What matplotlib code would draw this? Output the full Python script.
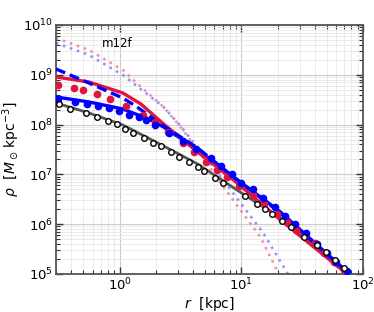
import matplotlib
matplotlib.use("Agg")
import matplotlib.pyplot as plt
import numpy as np

# ---- data ----
# open circles (gray profile)
r_open = [0.315, 0.389, 0.526, 0.648, 0.797, 0.945, 1.10, 1.28, 1.57, 1.86, 2.17, 2.62,
          3.05, 3.68, 4.36, 4.97, 6.12, 7.12, 10.6, 13.3, 15.6, 17.9, 21.7, 25.7, 32.5,
          42.0, 49.7, 58.9, 69.8]
lr_open = [8.408, 8.313, 8.227, 8.147, 8.072, 8.012, 7.906, 7.831, 7.731, 7.631, 7.56, 7.45,
           7.349, 7.249, 7.149, 7.068, 6.928, 6.827, 6.556, 6.406, 6.305, 6.205, 6.064, 5.944,
           5.743, 5.582, 5.442, 5.281, 5.12]

# blue filled circles
r_blue = [0.310, 0.428, 0.537, 0.660, 0.812, 0.98, 1.186, 1.43, 1.63, 1.94, 2.52, 3.28,
          4.2, 5.57, 6.85, 8.44, 10.0, 12.5, 15.1, 19.0, 22.9, 27.7, 34.1, 42.0, 50.7,
          60.1, 74.0]
lr_blue = [8.514, 8.454, 8.414, 8.373, 8.333, 8.273, 8.193, 8.153, 8.092, 7.992, 7.831, 7.671,
           7.51, 7.329, 7.169, 7.008, 6.827, 6.707, 6.526, 6.345, 6.165, 6.004, 5.823, 5.602,
           5.422, 5.241, 5.06]

# red filled circles
r_red = [0.310, 0.42, 0.497, 0.648, 0.828, 1.12, 1.54, 1.94, 2.47, 3.28, 4.04, 5.07, 6.24,
         7.68, 9.63, 12.5, 15.4, 19.7, 23.8, 28.2, 33.5, 40.5, 47.9, 57.8, 69.8]
lr_red = [8.795, 8.735, 8.695, 8.614, 8.514, 8.373, 8.193, 8.052, 7.851, 7.631, 7.45, 7.249,
          7.088, 6.948, 6.767, 6.586, 6.406, 6.205, 6.044, 5.884, 5.783, 5.622, 5.422, 5.241,
          5.08]

# curves
r_gray_line = [0.299, 0.557, 1.058, 2.29, 4.36, 10.6, 21.7, 78.2]
lr_gray_line = [8.434, 8.233, 7.992, 7.570, 7.209, 6.586, 6.104, 5.0]

r_blue_line = [0.299, 0.557, 1.058, 1.80, 2.29, 4.36, 8.6, 20.9, 75.4]
lr_blue_line = [8.554, 8.454, 8.313, 8.092, 7.952, 7.49, 6.948, 6.245, 5.02]

r_blue_dash = [0.299, 0.557, 1.058, 1.35, 2.29, 4.36, 8.6, 20.9, 75.4]
lr_blue_dash = [9.116, 8.835, 8.534, 8.373, 7.972, 7.530, 6.948, 6.225, 5.02]

r_red_line = [0.299, 0.557, 1.058, 1.49, 2.29, 4.36, 8.6, 20.9, 75.4]
lr_red_line = [8.956, 8.855, 8.635, 8.414, 8.012, 7.45, 6.888, 6.084, 4.98]

r_pink_dot = [0.299, 0.557, 1.06, 1.35, 2.29, 3.16, 4.36, 7.12, 14.3, 20.1, 22.0]
lr_pink_dot = [9.739, 9.498, 9.096, 8.855, 8.353, 7.952, 7.49, 6.747, 5.743, 5.02, 4.85]

r_lblue_dot = [0.299, 0.557, 1.06, 2.29, 3.16, 7.82, 15.1, 23.8, 26.0]
lr_lblue_dot = [9.639, 9.398, 8.996, 8.353, 7.97, 6.747, 5.823, 5.02, 4.85]

label_text = "m12f"

RED = "#e0143c"

fig = plt.figure(figsize=(3.74, 3.12), dpi=100)
ax = fig.add_axes([0.150, 0.122, 0.821, 0.798])

def p(a):
    return 10 ** np.asarray(a)

ax.plot(r_pink_dot, p(lr_pink_dot), ls=(0, (1, 1.8)), color="#f07890", lw=1.9, alpha=0.8, zorder=2)
ax.plot(r_lblue_dot, p(lr_lblue_dot), ls=(0, (1, 1.8)), color="#7b7bff", lw=1.9, alpha=0.8, zorder=2)

ax.plot(r_gray_line, p(lr_gray_line), color="#555555", lw=2, zorder=3)
ax.plot(r_blue_line, p(lr_blue_line), color="blue", lw=2.4, zorder=4)
ax.plot(r_red_line, p(lr_red_line), color=RED, lw=2.4, zorder=4)
ax.plot(r_blue_dash, p(lr_blue_dash), color="blue", lw=2.4, ls=(0, (3, 1.5)), zorder=4)

ax.plot(r_red, p(lr_red), "o", color=RED, ms=4.5, mec=RED, zorder=5)
ax.plot(r_blue, p(lr_blue), "o", color="blue", ms=4.5, mec="blue", zorder=5)
ax.plot(r_open, p(lr_open), "o", mfc="white", mec="black", ms=4, mew=1, zorder=6)

ax.set_xscale("log")
ax.set_yscale("log")
ax.set_xlim(0.3, 100)
ax.set_ylim(1e5, 1e10)

ax.grid(True, which="major", color="#cccccc", lw=0.8)
ax.grid(True, which="minor", color="#e8e8e8", lw=0.6)
ax.set_axisbelow(True)

ax.tick_params(which="both", direction="in", top=True, right=True, labelsize=9.5,
               color="#333333", pad=2)
ax.tick_params(which="major", length=5, width=1)
ax.tick_params(which="minor", length=3, width=0.8)
for s in ax.spines.values():
    s.set_color("#555555")
    s.set_linewidth(1.3)

ax.set_xlabel(r"$r\ \ [{\rm kpc}]$", fontsize=10, labelpad=1)
ax.set_ylabel(r"$\rho\ \ [M_\odot\,{\rm kpc}^{-3}]$", fontsize=10, labelpad=1)

ax.text(0.15, 0.925, label_text, transform=ax.transAxes, fontsize=8.5, va="center", ha="left")

fig.savefig("out.png", dpi=100)
